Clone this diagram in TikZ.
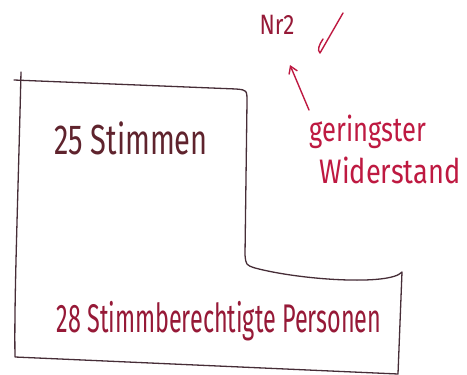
\documentclass[tikz,border=0pt]{standalone}
\usepackage{fontspec}
\setmainfont{Fira Sans}
\usetikzlibrary{arrows.meta}
\definecolor{ink}{RGB}{70,45,55}
\definecolor{redink}{RGB}{190,25,65}
\definecolor{darkred}{RGB}{150,25,55}
\definecolor{dark}{RGB}{95,35,45}
\tikzset{
  outline/.style={draw=ink, line width=1.3pt, line join=round, line cap=round},
  hand/.style={inner sep=0pt, anchor=center},
  redline/.style={draw=redink, line width=1.4pt, line cap=round, line join=round},
}
\begin{document}
\begin{tikzpicture}[x=1pt,y=-1pt]
\useasboundingbox (0,0) rectangle (467,375);
% L-shaped outline
\draw[outline] (21,72) .. controls (18,200) and (14,300) .. (15,357) -- (398,374)
  -- (402,272) .. controls (390,286) and (300,280) .. (255,268)
  .. controls (246,265) .. (245,255) -- (247,102) .. controls (247,90) .. (236,89) -- (14,80);
% texts
\node[hand, text=dark, font=\fontsize{42}{44}\selectfont, xscale=0.69] (t25) at (131,138) {25 Stimmen};
\node[hand, text=darkred, font=\fontsize{40}{42}\selectfont, xscale=0.585] (t28) at (219,321) {28 Stimmberechtigte Personen};
\node[hand, text=darkred, font=\fontsize{28}{30}\selectfont, xscale=0.8] (nr) at (277,25) {Nr2};
\node[hand, text=redink, font=\fontsize{34}{36}\selectfont, xscale=0.75] (g) at (368,132) {geringster};
\node[hand, text=redink, font=\fontsize{34}{36}\selectfont, xscale=0.8] (w) at (390,170) {Widerstand};
% arrow
\coordinate (tail) at (309,110);
\coordinate (tip) at (290,65);
\draw[redline, -{Straight Barb[length=7pt,width=9pt]}] (tail) -- (tip);
% check mark
\draw[redline] (323,39) .. controls (319,45) and (317,50) .. (320,53) -- (343,13);
\end{tikzpicture}
\end{document}
